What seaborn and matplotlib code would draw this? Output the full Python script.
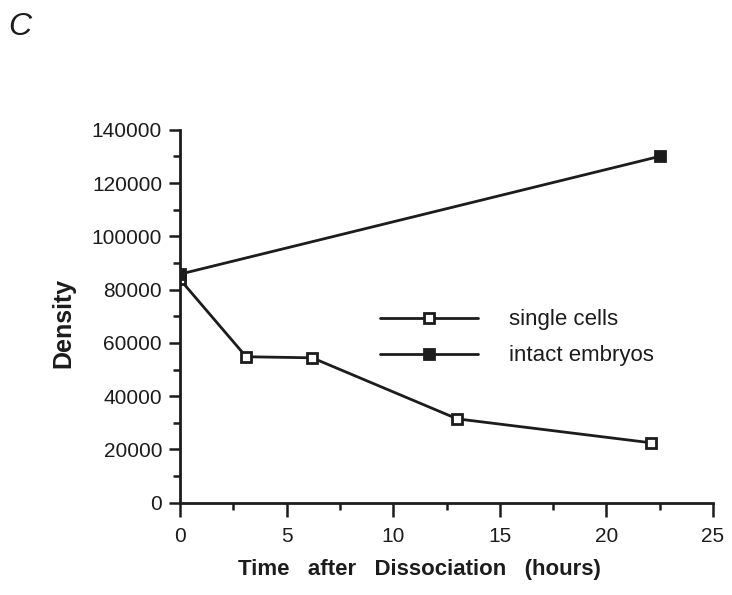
import matplotlib
matplotlib.use("Agg")
import matplotlib.pyplot as plt
import seaborn as sns
import pandas as pd
from matplotlib.ticker import MultipleLocator

sns.set_theme(style="ticks")
plt.rcParams['font.family'] = ['Liberation Sans', 'DejaVu Sans']

# Data
single_hours = [0, 3.1, 6.2, 13, 22.1]
single_density = [83800, 54800, 54400, 31500, 22500]
intact_hours = [0, 22.5]
intact_density = [85800, 130000]
series_labels = ["single cells", "intact embryos"]

df_single = pd.DataFrame({"hours": single_hours, "density": single_density})
df_intact = pd.DataFrame({"hours": intact_hours, "density": intact_density})

ink = "#1c1c1c"

fig = plt.figure(figsize=(7.32, 5.95), dpi=100)
ax = fig.add_axes([0.246, 0.155, 0.728, 0.627])

sns.lineplot(data=df_single, x="hours", y="density", ax=ax, color=ink,
             linewidth=2.0, marker="s", markersize=7.5, markerfacecolor="white",
             markeredgecolor=ink, markeredgewidth=2.0, label=series_labels[0])
sns.lineplot(data=df_intact, x="hours", y="density", ax=ax, color=ink,
             linewidth=2.0, marker="s", markersize=7.5, markerfacecolor=ink,
             markeredgecolor=ink, markeredgewidth=2.0, label=series_labels[1])

ax.set_xlim(0, 25)
ax.set_ylim(0, 140000)
ax.xaxis.set_major_locator(MultipleLocator(5))
ax.xaxis.set_minor_locator(MultipleLocator(2.5))
ax.yaxis.set_major_locator(MultipleLocator(20000))
ax.yaxis.set_minor_locator(MultipleLocator(10000))
ax.spines['top'].set_visible(False)
ax.spines['right'].set_visible(False)
for s in ['left', 'bottom']:
    ax.spines[s].set_linewidth(2.0)
    ax.spines[s].set_color(ink)
ax.tick_params(axis='both', which='major', direction='out', length=8, width=1.8,
               color=ink, labelsize=15, labelcolor=ink)
ax.tick_params(axis='both', which='minor', direction='out', length=5, width=1.8,
               color=ink)
ax.tick_params(axis='y', which='major', pad=5)
ax.tick_params(axis='x', which='major', length=10, pad=7.5)
ax.margins(0)
ax.set_facecolor("white")

ax.set_xlabel("Time   after   Dissociation   (hours)", fontsize=16,
              fontweight='bold', color=ink)
ax.xaxis.set_label_coords(0.45, -0.150)
ax.set_ylabel("Density", fontsize=18, fontweight='bold', color=ink)
ax.yaxis.set_label_coords(-0.197, 0.4826)

leg = ax.legend(loc="upper left", bbox_to_anchor=(0.519, 0.480),
                bbox_transform=fig.transFigure, frameon=False, fontsize=16,
                handlelength=4.4, handletextpad=1.4, labelspacing=0.67,
                borderpad=0, borderaxespad=0)
for t in leg.get_texts():
    t.set_color(ink)

fig.text(0.011, 0.955, "C", fontsize=23, fontstyle='italic', color=ink,
         va='center', ha='left')

fig.savefig("out.png", dpi=100, facecolor="white")
